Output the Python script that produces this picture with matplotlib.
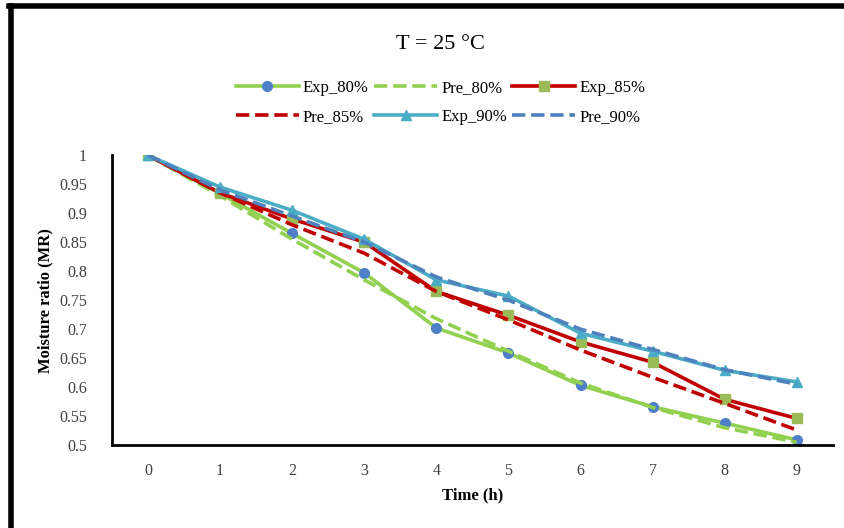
import matplotlib
matplotlib.use("Agg")
import matplotlib.pyplot as plt
from matplotlib.lines import Line2D

### data
time_h = [0, 1, 2, 3, 4, 5, 6, 7, 8, 9]
exp_80 = [1.0, 0.934, 0.865, 0.797, 0.702, 0.659, 0.603, 0.566, 0.538, 0.509]
pre_80 = [1.0, 0.930, 0.855, 0.785, 0.718, 0.662, 0.607, 0.565, 0.530, 0.505]
exp_85 = [1.0, 0.935, 0.890, 0.850, 0.765, 0.724, 0.678, 0.643, 0.579, 0.546]
pre_85 = [1.0, 0.935, 0.880, 0.831, 0.765, 0.716, 0.664, 0.617, 0.572, 0.526]
exp_90 = [1.0, 0.945, 0.905, 0.855, 0.785, 0.757, 0.693, 0.662, 0.629, 0.609]
pre_90 = [1.0, 0.940, 0.895, 0.850, 0.790, 0.750, 0.700, 0.665, 0.630, 0.605]
y_ticks = [0.5, 0.55, 0.6, 0.65, 0.7, 0.75, 0.8, 0.85, 0.9, 0.95, 1]

plt.rcParams["font.family"] = ["Liberation Serif", "DejaVu Serif"]

fig = plt.figure(figsize=(8.44, 5.28), dpi=100)
ax = fig.add_axes([0.1327, 0.157, 0.854, 0.549])

lw = 2.6
h_e80, = ax.plot(time_h, exp_80, "-", color="#92D050", lw=lw, marker="o",
                 ms=7, mfc="#4F7FC8", mec="#4F7FC8", label="Exp_80%")
h_p80, = ax.plot(time_h, pre_80, "--", color="#92D050", lw=lw, label="Pre_80%")
h_e85, = ax.plot(time_h, exp_85, "-", color="#C00000", lw=lw, marker="s",
                 ms=7.5, mfc="#9BBB59", mec="#9BBB59", label="Exp_85%")
h_p85, = ax.plot(time_h, pre_85, "--", color="#C00000", lw=lw, label="Pre_85%")
h_e90, = ax.plot(time_h, exp_90, "-", color="#4BACC6", lw=lw, marker="^",
                 ms=7, mfc="#4BACC6", mec="#4BACC6", label="Exp_90%")
h_p90, = ax.plot(time_h, pre_90, "--", color="#4F81BD", lw=lw, label="Pre_90%")

ax.set_xlim(-0.5, 9.5)
ax.set_ylim(0.5, 1.0)
ax.set_xticks(time_h)
ax.set_yticks(y_ticks)
ax.set_yticklabels([("%g" % v) for v in y_ticks])
ax.tick_params(length=0, labelsize=11.5, colors="#404040")
ax.tick_params(axis="y", pad=18)
ax.tick_params(axis="x", pad=13)
for s in ["top", "right"]:
    ax.spines[s].set_visible(False)
for s in ["left", "bottom"]:
    ax.spines[s].set_linewidth(2)
    ax.spines[s].set_color("black")

ax.set_xlabel("Time (h)", fontsize=12, fontweight="bold", labelpad=6)
ax.set_ylabel("Moisture ratio (MR)", fontsize=12, fontweight="bold", labelpad=4)

fig.text(0.522, 0.915, "T = 25 \u00b0C", ha="center", va="center", fontsize=16)

# legend laid out row-wise like the original
handles = [h_e80, h_p85, h_p80, h_e90, h_e85, h_p90]
fig.legend(handles=handles, labels=[h.get_label() for h in handles],
           loc="center", bbox_to_anchor=(0.522, 0.806), ncol=3, frameon=False,
           fontsize=12, handlelength=3.8, columnspacing=0.3,
           handletextpad=0.25, labelspacing=0.75)

# black frame lines on left and top of picture
fig.add_artist(Line2D([10.5 / 844, 10.5 / 844], [0, 1 - 5.5 / 528],
                      transform=fig.transFigure, color="black", lw=4))
fig.add_artist(Line2D([8.5 / 844, 1], [1 - 5.5 / 528, 1 - 5.5 / 528],
                      transform=fig.transFigure, color="black", lw=4))

fig.savefig("out.png", dpi=100)
